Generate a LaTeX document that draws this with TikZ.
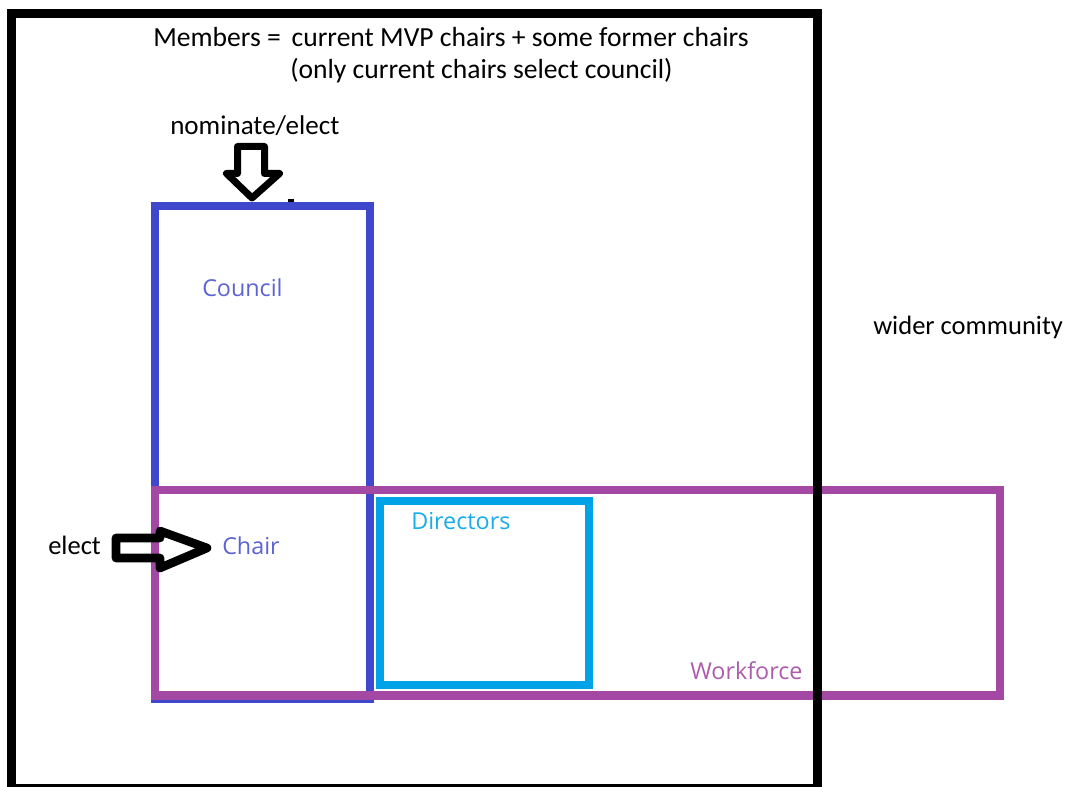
\documentclass[tikz,border=0pt]{standalone}
\usepackage{fontspec}
\setmainfont{Carlito}
\newfontfamily\labelfont{Open Sans}
\definecolor{indigoP}{HTML}{3F48CC}
\definecolor{purpleP}{HTML}{A349A4}
\definecolor{turqP}{HTML}{00A2E8}
\tikzset{
  framebox/.style={draw=black, line width=6.75pt},
  councilbox/.style={draw=indigoP, line width=6.5pt},
  workbox/.style={draw=purpleP, line width=6.5pt},
  dirbox/.style={draw=turqP, line width=6pt},
  blacktext/.style={anchor=base west, inner sep=0pt, text=black, font=\fontsize{19.9}{24}\selectfont},
  toptext/.style={blacktext, font=\fontsize{20.7}{24}\selectfont},
  colortext/.style={anchor=base west, inner sep=0pt, font=\labelfont\fontsize{17.5}{21}\selectfont},
  blockarrow/.style={draw=black, line join=round},
}
\begin{document}
\begin{tikzpicture}[x=0.75pt,y=-0.75pt]
\useasboundingbox (0,0) rectangle (1068,787);
% boxes
\draw[councilbox] (155,206) coordinate (councilNW) rectangle (370,699) coordinate (councilSE);
\draw[workbox] (155,490) coordinate (workNW) rectangle (1000,695.5) coordinate (workSE);
\draw[dirbox] (380,501) coordinate (dirNW) rectangle (589,685) coordinate (dirSE);
\draw[framebox] (11.5,13.5) coordinate (frameNW) rectangle (817,788) coordinate (frameSE);
% texts
\node[toptext] (members) at (153,47) {Members = \,current MVP chairs + some former chairs};
\node[toptext] (only) at (290,79) {(only current chairs select council)};
\node[blacktext, font=\fontsize{20.3}{24}\selectfont] (nominate) at (170,135) {nominate/elect};
\node[blacktext] (elect) at (48,555) {elect};
\node[blacktext] (wider) at (873,335) {wider community};
\node[colortext, text=indigoP!85!white] (council) at (202,297) {Council};
\node[colortext, text=indigoP!85!white] (chair) at (222,555) {Chair};
\node[colortext, text=turqP!90!white] (directors) at (411,530) {Directors};
\node[colortext, text=purpleP!90!white] (workforce) at (690,680) {Workforce};
% block arrows
\draw[blockarrow, line width=5.25pt] (237.5,146.5) -- (264.5,146.5) -- (264.5,173.5) -- (279.5,173.5) -- (252,198) -- (226.5,173.5) -- (237.5,173.5) -- cycle;
\draw[blockarrow, line width=6.5pt] (116,538) -- (160,538) -- (160,531) -- (207,548) -- (160,568) -- (160,558) -- (116,558) -- cycle;
% small mark
\coordinate (markA) at (288,201);
\coordinate (markB) at (294,201);
\draw[black, line width=2.25pt] (markA) -- (markB);
\end{tikzpicture}
\end{document}
